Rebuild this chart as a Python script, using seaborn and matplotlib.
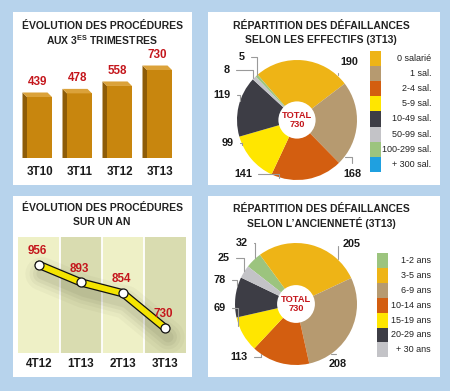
import numpy as np
import pandas as pd
import matplotlib
matplotlib.use("Agg")
import matplotlib.pyplot as plt
import seaborn as sns
from matplotlib.patches import Rectangle, Polygon, Circle
import matplotlib.patheffects as pe
from matplotlib import font_manager
from matplotlib.transforms import offset_copy

# ---------------- data ----------------
bar_cats = ["3T10", "3T11", "3T12", "3T13"]
bar_vals = [439, 478, 558, 730]

line_cats = ["4T12", "1T13", "2T13", "3T13"]
line_vals = [956, 893, 854, 730]

eff_labels = ["0 salarié", "1 sal.", "2-4 sal.", "5-9 sal.", "10-49 sal.",
              "50-99 sal.", "100-299 sal.", "+ 300 sal."]
eff_vals = [190, 168, 141, 99, 119, 8, 5, 0]

anc_labels = ["1-2 ans", "3-5 ans", "6-9 ans", "10-14 ans", "15-19 ans",
              "20-29 ans", "+ 30 ans"]
anc_vals = [32, 205, 208, 113, 69, 78, 25]

total_label = "TOTAL\n730"

# ---------------- style ----------------
sns.set_theme(style="white")

def pick_font(names):
    for n in names:
        try:
            font_manager.findfont(font_manager.FontProperties(family=n),
                                  fallback_to_default=False)
            return n
        except Exception:
            pass
    return "DejaVu Sans"

FONT = pick_font(["Liberation Sans", "Arimo"])
plt.rcParams["font.family"] = [FONT, "DejaVu Sans"]
plt.rcParams["mathtext.fontset"] = "custom"
plt.rcParams["mathtext.rm"] = FONT
plt.rcParams["mathtext.bf"] = FONT + ":bold"

BG = "#b7d3ec"
RED = "#c4161c"
GOLD = "#eeb416"
TAN = "#b69a70"
ORANGE = "#d35e10"
YELLOW = "#ffe600"
DARK = "#3d3d45"
LGREY = "#c3c3c7"
GREEN = "#9cc47e"
BLUE = "#1fa0e0"
eff_colors = [GOLD, TAN, ORANGE, YELLOW, DARK, LGREY, GREEN, BLUE]
anc_colors = [GREEN, GOLD, TAN, ORANGE, YELLOW, DARK, LGREY]

W, H = 450, 391
fig = plt.figure(figsize=(W / 100, H / 100), dpi=100, facecolor=BG)


def ax_px(left, top, w, h):
    return fig.add_axes([left / W, 1 - (top + h) / H, w / W, h / H])


def fig_text(x, y, s, **kw):
    return fig.text(x / W, 1 - y / H, s, **kw)


# white panels
for (l, t, r, b) in [(13, 12, 192, 185), (208, 12, 440, 185),
                     (13, 196, 192, 377), (208, 196, 440, 377)]:
    fig.add_artist(Rectangle((l / W, 1 - b / H), (r - l) / W, (b - t) / H,
                             transform=fig.transFigure, facecolor="white",
                             edgecolor="none", zorder=-5))

TITLE_KW = dict(ha="center", va="center", fontsize=7.5, fontweight="bold",
                color="#222222")
fig_text(102, 26, "ÉVOLUTION DES PROCÉDURES", **TITLE_KW)
fig_text(102, 40, r"AUX 3$^{\mathbf{ES}}$ TRIMESTRES", **TITLE_KW)
fig_text(321, 26, "RÉPARTITION DES DÉFAILLANCES", **TITLE_KW)
fig_text(321, 40, "SELON LES EFFECTIFS (3T13)", **TITLE_KW)
fig_text(102, 208, "ÉVOLUTION DES PROCÉDURES", **TITLE_KW)
fig_text(102, 222, "SUR UN AN", **TITLE_KW)
fig_text(321, 209, "RÉPARTITION DES DÉFAILLANCES", **TITLE_KW)
fig_text(321, 223, "SELON L\u2019ANCIENNETÉ (3T13)", **TITLE_KW)

# ---------------- bar chart ----------------
axb = ax_px(19.5, 60, 160, 98)
axb.set_facecolor("none")
df_b = pd.DataFrame({"cat": bar_cats, "val": bar_vals})
sns.barplot(data=df_b, x="cat", y="val", color="#c8860e", width=0.625,
            saturation=1, ax=axb, zorder=3)
ymin, ymax = -219, 838
axb.set_ylim(ymin, ymax)
axb.set_xlim(-0.5, len(bar_cats) - 0.5)
# pixel -> data conversion for the 3D depth
dx = 4.5 * (len(bar_cats)) / 160
dy = 4.5 * (ymax - ymin) / 98
for p, v in zip(axb.patches, bar_vals):
    x0 = p.get_x()
    w = p.get_width()
    p.set_y(ymin)
    p.set_height(v - ymin)
    p.set_edgecolor("none")
    side = Polygon([(x0, ymin), (x0, v), (x0 - dx, v + dy), (x0 - dx, ymin)],
                   closed=True, facecolor="#8e5c08", edgecolor="none", zorder=3)
    top = Polygon([(x0, v), (x0 + w, v), (x0 + w - dx, v + dy), (x0 - dx, v + dy)],
                  closed=True, facecolor="#dba23a", edgecolor="none", zorder=3)
    axb.add_patch(side)
    axb.add_patch(top)
    axb.annotate(f"{v}", xy=(x0 + w / 2 - dx / 2, v), xytext=(0, 11),
                 textcoords="offset points", ha="center", va="center",
                 fontsize=8.4, fontweight="bold", color=RED)
axb.set_xlabel("")
axb.set_ylabel("")
axb.set_yticks([])
axb.tick_params(axis="x", length=0, pad=6, labelsize=8.4)
for t in axb.get_xticklabels():
    t.set_fontweight("bold")
    t.set_color("#1a1a1a")
sns.despine(ax=axb, left=True, bottom=True)

# ---------------- line chart ----------------
axl = ax_px(18, 237, 168, 116)
x_idx = np.arange(len(line_cats))
df_l = pd.DataFrame({"x": x_idx, "val": line_vals})
axl.set_xlim(-0.5, len(line_cats) - 0.5)
axl.set_ylim(640, 1056)
for i in x_idx:
    axl.axvspan(i - 0.5, i + 0.5, color="#eef0c6" if i % 2 == 0 else "#d9dcb0",
                lw=0, zorder=0)
    if i > 0:
        axl.axvline(i - 0.5, color="white", lw=1.3, zorder=1)
# soft shadow
for lw_s, a in [(24, 0.035), (18, 0.045), (13, 0.055), (8, 0.06)]:
    tr = offset_copy(axl.transData, fig=fig, x=3, y=-9, units="dots")
    axl.plot(df_l["x"], df_l["val"], color="#3a3a20", lw=lw_s, alpha=a,
             solid_capstyle="round", solid_joinstyle="round", transform=tr,
             zorder=2)
sns.lineplot(data=df_l, x="x", y="val", ax=axl, color="#f4e400", lw=4.2,
             zorder=3, path_effects=[pe.Stroke(linewidth=6, foreground="#111111"),
                                     pe.Normal()])
axl.plot(df_l["x"], df_l["val"], ls="none", marker="o", ms=6.5, mfc="white",
         mec="#111111", mew=0.9, zorder=4)
for i, v in zip(x_idx, line_vals):
    axl.annotate(f"{v}", xy=(i, v), xytext=(-1, 10), textcoords="offset points",
                 ha="center", va="center", fontsize=8.4, fontweight="bold",
                 color=RED, zorder=5)
axl.set_xticks(x_idx)
axl.set_xticklabels(line_cats)
axl.set_yticks([])
axl.set_xlabel("")
axl.set_ylabel("")
axl.tick_params(axis="x", length=0, pad=3.5, labelsize=8.4)
for t in axl.get_xticklabels():
    t.set_fontweight("bold")
    t.set_color("#1a1a1a")
for s in axl.spines.values():
    s.set_visible(False)


# ---------------- pies ----------------
def draw_pie(ax, vals, colors, start, label_pos, conn):
    ax.set_xlim(-1.5, 1.5)
    ax.set_ylim(-1.5, 1.5)
    ax.set_aspect("equal")
    ax.axis("off")
    wedges, _ = ax.pie(vals, colors=colors, startangle=start, counterclock=False,
                       radius=1, wedgeprops=dict(linewidth=0, edgecolor="none"))
    ax.set_xlim(-1.5, 1.5)
    ax.set_ylim(-1.5, 1.5)
    ax.add_patch(Circle((0, 0), 0.31, facecolor="white", edgecolor="none", zorder=5))
    ax.text(0, 0, total_label, ha="center", va="center", fontsize=6.7,
            fontweight="bold", color=RED, linespacing=0.9, zorder=6)
    for wdg, v, lp, cs in zip(wedges, vals, label_pos, conn):
        if lp is None:
            continue
        t1, t2 = wdg.theta1, wdg.theta2
        lo, hi = min(t1, t2), max(t1, t2)
        ang = np.degrees(np.arctan2(lp[1], lp[0]))
        while ang < lo - 180:
            ang += 360
        while ang > hi + 180:
            ang -= 360
        m = min(8, (hi - lo) * 0.3)
        ang = np.clip(ang, lo + m, hi - m)
        px, py = np.cos(np.radians(ang)), np.sin(np.radians(ang))
        ax.annotate(f"{v}", xy=(px * 1.01, py * 1.01), xytext=lp,
                    ha="center", va="center", fontsize=7.8, fontweight="bold",
                    color="#1a1a1a",
                    arrowprops=dict(arrowstyle="-", color="#9a9a9a", lw=0.8,
                                    shrinkA=2, shrinkB=0, connectionstyle=cs))


H0 = "angle,angleA=0,angleB=90,rad=0"
V0 = "angle,angleA=90,angleB=0,rad=0"

axp1 = ax_px(207, 30, 180, 180)
draw_pie(axp1, eff_vals, eff_colors, 131,
         [(0.88, 0.97), (0.92, -0.9), (-0.9, -0.9), (-1.15, -0.38),
          (-1.25, 0.42), (-1.17, 0.83), (-0.92, 1.05), None],
         [H0, V0, H0, H0, H0, H0, H0, H0])

axp2 = ax_px(204.5, 212.5, 183, 183)
draw_pie(axp2, anc_vals, anc_colors, 142,
         [(-0.89, 1.0), (0.92, 0.98), (0.69, -0.98), (-0.93, -0.87),
          (-1.25, -0.07), (-1.25, 0.39), (-1.18, 0.75)],
         [H0, H0, V0, H0, H0, H0, H0])


# ---------------- legends ----------------
def draw_legend(sq_left, sq_w, top, step, text_right, labels, colors):
    n = len(labels)
    ax = ax_px(sq_left, top, text_right - sq_left, step * n)
    ax.set_xlim(0, text_right - sq_left)
    ax.set_ylim(n * step, 0)
    ax.axis("off")
    for i, (lab, col) in enumerate(zip(labels, colors)):
        ax.add_patch(Rectangle((0, i * step), sq_w, step, facecolor=col,
                               edgecolor="none"))
        ax.text(text_right - sq_left, i * step + step / 2, lab, ha="right",
                va="center", fontsize=6.5, color="#222222")


draw_legend(370, 10.5, 51, 15.1, 431, eff_labels, eff_colors)
draw_legend(377, 11, 253, 14.9, 431, anc_labels, anc_colors)

fig.savefig("out.png", dpi=100, facecolor=BG)
